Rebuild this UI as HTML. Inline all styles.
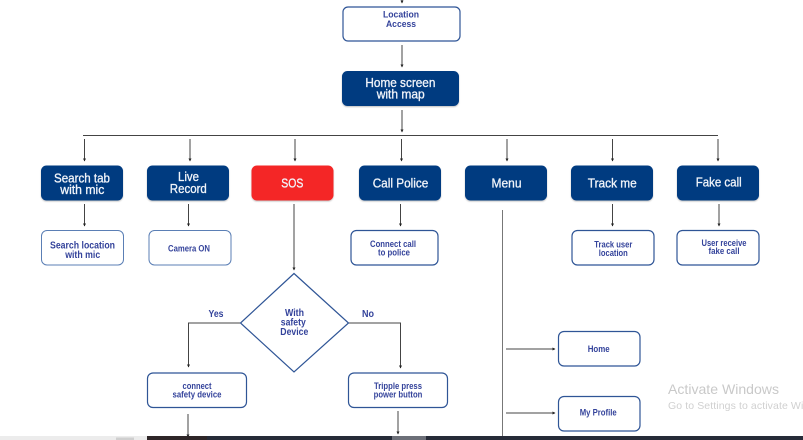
<!DOCTYPE html>
<html>
<head>
<meta charset="utf-8">
<style>
html,body{margin:0;padding:0;background:#fff;}
body{width:803px;height:440px;overflow:hidden;position:relative;}
svg{position:absolute;left:0;top:0;display:block;filter:blur(0.3px);}
text{font-family:"Liberation Sans",sans-serif;text-anchor:middle;}
.w{fill:#f2f5fa;font-size:13px;stroke:#f2f5fa;stroke-width:0.3px;}
.b{fill:#34439b;font-size:9.2px;font-weight:bold;}
.l{stroke:#444;stroke-width:1;fill:none;}
.o{fill:#fff;stroke:#2f5596;stroke-width:1.2;}
.f{fill:#033a80;filter:url(#s);}
</style>
</head>
<body>
<svg width="803" height="440" viewBox="0 0 803 440" xmlns="http://www.w3.org/2000/svg">
<defs>
<filter id="s" x="-10%" y="-10%" width="120%" height="130%"><feDropShadow dx="0" dy="1" stdDeviation="0.8" flood-color="#000" flood-opacity="0.25"/></filter>
<marker id="a" markerWidth="4" markerHeight="4" refX="2.500" refY="1.500" orient="auto" markerUnits="userSpaceOnUse"><path d="M0 0L3 1.500L0 3Z" fill="#222"/></marker>
</defs>

<!-- connectors -->
<path class="l" marker-end="url(#a)" d="M402 0V3"/>
<path class="l" marker-end="url(#a)" d="M402 45V67"/>
<path class="l" marker-end="url(#a)" d="M402 110V132"/>
<path class="l" marker-end="url(#a)" d="M84.500 139V161"/>
<path class="l" marker-end="url(#a)" d="M190 139V161"/>
<path class="l" marker-end="url(#a)" d="M295 139V161"/>
<path class="l" marker-end="url(#a)" d="M401.500 139V161"/>
<path class="l" marker-end="url(#a)" d="M507 139V161"/>
<path class="l" marker-end="url(#a)" d="M612.500 139V161"/>
<path class="l" marker-end="url(#a)" d="M718 139V161"/>
<path class="l" marker-end="url(#a)" d="M84.500 204V226"/>
<path class="l" marker-end="url(#a)" d="M188.500 204V226"/>
<path class="l" marker-end="url(#a)" d="M400.500 204V226"/>
<path class="l" marker-end="url(#a)" d="M612.500 204V226"/>
<path class="l" marker-end="url(#a)" d="M719 204V226"/>
<path class="l" marker-end="url(#a)" d="M294 204V270"/>
<path class="l" marker-end="url(#a)" d="M240 323H188.500V367"/>
<path class="l" marker-end="url(#a)" d="M348.500 323H400.500V368"/>
<path class="l" marker-end="url(#a)" d="M188 414V437"/>
<path class="l" marker-end="url(#a)" d="M398 411V434"/>
<path class="l" marker-end="url(#a)" d="M506 349H555"/>
<path class="l" marker-end="url(#a)" d="M506 413H555"/>
<path class="l" d="M83 135.500H718"/>
<path d="M502.500 210V436" stroke="#777" stroke-width="1" fill="none"/>

<!-- dark boxes -->
<rect class="f" x="342" y="71" width="117" height="35" rx="5.500"/>
<rect class="f" x="41" y="165.500" width="82" height="35" rx="5.500"/>
<rect class="f" x="147" y="165.500" width="82" height="35" rx="5.500"/>
<rect x="251.500" y="165.500" width="82" height="35" rx="5.500" fill="#f42525" filter="url(#s)"/>
<rect class="f" x="359" y="165.500" width="82" height="35" rx="5.500"/>
<rect class="f" x="465" y="165.500" width="82" height="35" rx="5.500"/>
<rect class="f" x="571" y="165.500" width="82" height="35" rx="5.500"/>
<rect class="f" x="677" y="165.500" width="82" height="35" rx="5.500"/>

<!-- outline boxes -->
<rect class="o" x="343" y="7" width="117" height="34" rx="5"/>
<rect class="o" x="41.500" y="230.500" width="82" height="34.500" rx="5.500" style="stroke:#5b7fb5;stroke-width:1"/>
<rect class="o" x="149" y="230.500" width="82" height="34.500" rx="5.500" style="stroke:#5b7fb5;stroke-width:1"/>
<rect class="o" x="351" y="230.500" width="87" height="34.500" rx="5.500"/>
<rect class="o" x="572" y="230.500" width="82" height="34.500" rx="5.500"/>
<rect class="o" x="677" y="230.500" width="82" height="34.500" rx="5.500"/>
<rect class="o" x="558.500" y="331.500" width="81.500" height="34.500" rx="5.500"/>
<rect class="o" x="558.500" y="396.500" width="81.500" height="34.500" rx="5.500"/>
<rect class="o" x="147.500" y="373" width="99" height="34.500" rx="5.500"/>
<rect class="o" x="348.500" y="373" width="99" height="34.500" rx="5.500"/>
<path d="M294 273.500L348.500 323L294 372L240.500 323Z" fill="#fff" stroke="#2f5596" stroke-width="1.200"/>

<!-- dark box labels -->
<text class="w" x="400.400" y="87" textLength="70" lengthAdjust="spacingAndGlyphs">Home screen</text>
<text class="w" x="400.700" y="98.700" textLength="48" lengthAdjust="spacingAndGlyphs">with map</text>
<text class="w" x="82" y="182.500" textLength="56" lengthAdjust="spacingAndGlyphs">Search tab</text>
<text class="w" x="82.300" y="194" textLength="44" lengthAdjust="spacingAndGlyphs">with mic</text>
<text class="w" x="188.500" y="181" textLength="21" lengthAdjust="spacingAndGlyphs">Live</text>
<text class="w" x="188.300" y="193" textLength="37" lengthAdjust="spacingAndGlyphs">Record</text>
<text class="w" x="292.300" y="187.700" textLength="22" lengthAdjust="spacingAndGlyphs">SOS</text>
<text class="w" x="400.500" y="187.700" textLength="55.600" lengthAdjust="spacingAndGlyphs">Call Police</text>
<text class="w" x="506.500" y="187.700" textLength="30" lengthAdjust="spacingAndGlyphs">Menu</text>
<text class="w" x="612.300" y="187.700" textLength="49" lengthAdjust="spacingAndGlyphs">Track me</text>
<text class="w" x="718.700" y="186.700" textLength="46" lengthAdjust="spacingAndGlyphs">Fake call</text>

<!-- outline box labels -->
<text class="b" x="401" y="17.500" textLength="36" lengthAdjust="spacingAndGlyphs">Location</text>
<text class="b" x="401" y="27" textLength="30" lengthAdjust="spacingAndGlyphs">Access</text>
<text class="b" style="font-size:10px" x="82.500" y="248.300" textLength="65" lengthAdjust="spacingAndGlyphs">Search location</text>
<text class="b" style="font-size:10px" x="82.700" y="257.800" textLength="35" lengthAdjust="spacingAndGlyphs">with mic</text>
<text class="b" x="189" y="251.500" textLength="42" lengthAdjust="spacingAndGlyphs">Camera ON</text>
<text class="b" x="393" y="247" textLength="46" lengthAdjust="spacingAndGlyphs">Connect call</text>
<text class="b" x="394" y="255.500" textLength="32" lengthAdjust="spacingAndGlyphs">to police</text>
<text class="b" x="613.300" y="247.500" textLength="38" lengthAdjust="spacingAndGlyphs">Track user</text>
<text class="b" x="613.300" y="255.800" textLength="29" lengthAdjust="spacingAndGlyphs">location</text>
<text class="b" x="724" y="246" textLength="45" lengthAdjust="spacingAndGlyphs">User receive</text>
<text class="b" x="724" y="254" textLength="31" lengthAdjust="spacingAndGlyphs">fake call</text>
<text class="b" x="598.700" y="352" textLength="22" lengthAdjust="spacingAndGlyphs">Home</text>
<text class="b" x="598.200" y="415.500" textLength="37" lengthAdjust="spacingAndGlyphs">My Profile</text>
<text class="b" x="197" y="389" textLength="29" lengthAdjust="spacingAndGlyphs">connect</text>
<text class="b" x="197" y="397.500" textLength="49" lengthAdjust="spacingAndGlyphs">safety device</text>
<text class="b" x="398" y="389" textLength="48" lengthAdjust="spacingAndGlyphs">Tripple press</text>
<text class="b" x="398" y="397.500" textLength="48.700" lengthAdjust="spacingAndGlyphs">power button</text>
<text class="b" style="font-size:9.800px" x="294.500" y="316" textLength="19" lengthAdjust="spacingAndGlyphs">With</text>
<text class="b" style="font-size:9.800px" x="293.300" y="325.500" textLength="25" lengthAdjust="spacingAndGlyphs">safety</text>
<text class="b" style="font-size:9.800px" x="294.300" y="335" textLength="28" lengthAdjust="spacingAndGlyphs">Device</text>
<text class="b" style="font-size:9.800px" x="216" y="317" textLength="15" lengthAdjust="spacingAndGlyphs">Yes</text>
<text class="b" style="font-size:9.800px" x="368" y="317" textLength="12" lengthAdjust="spacingAndGlyphs">No</text>

<!-- watermark -->
<text x="668" y="394" style="text-anchor:start;font-size:14px;fill:#c9c9c9" textLength="111" lengthAdjust="spacingAndGlyphs">Activate Windows</text>
<text x="668" y="409" style="text-anchor:start;font-size:10.500px;letter-spacing:0.100px;fill:#d0d0d0">Go to Settings to activate Windows.</text>

<!-- taskbar -->
<rect x="0" y="436" width="147" height="4" fill="#ececec"/>
<rect x="116" y="437.500" width="18" height="2.500" fill="#cfcfcf"/>
<rect x="147" y="436" width="656" height="4" fill="#262b38"/>
<rect x="147" y="436" width="60" height="4" fill="#2e2628"/>
<rect x="392" y="436" width="34" height="4" fill="#6c6f78"/>
</svg>
</body>
</html>
